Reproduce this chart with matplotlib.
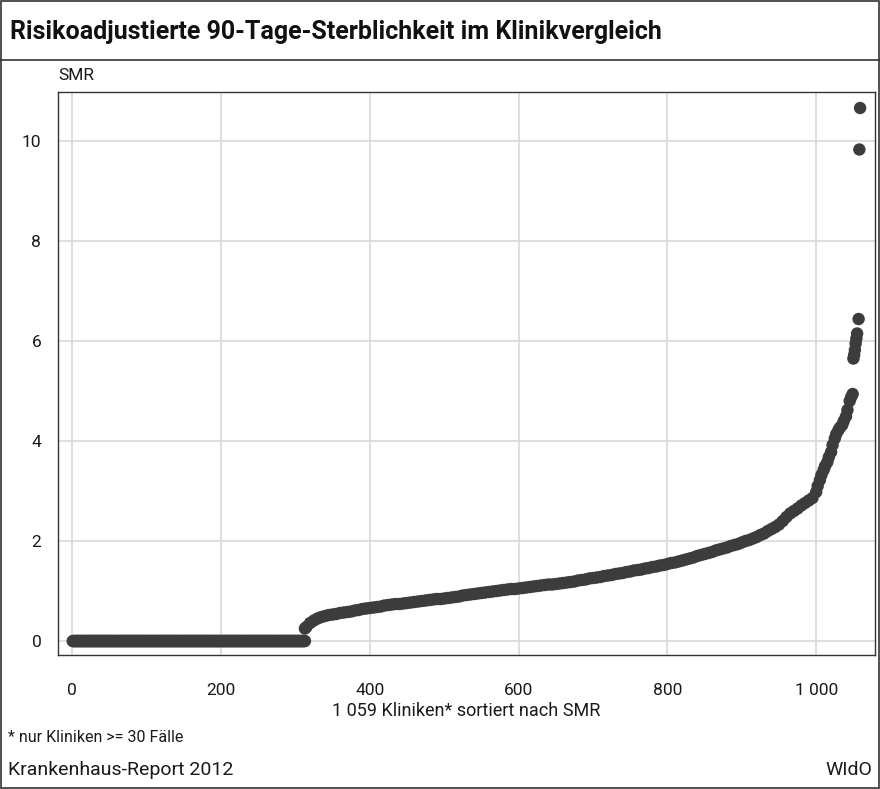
import numpy as np
import matplotlib
matplotlib.use("Agg")
import matplotlib.pyplot as plt
from matplotlib.ticker import FuncFormatter

# clinics with SMR 0 (ranks 1..313)
n_zero = 313

# SMR, every 5th rank from 315 to 1045
curve_rank = list(range(315, 1050, 5))
curve_smr = [
    0.28, 0.36, 0.41, 0.45, 0.48, 0.50, 0.52, 0.53, 0.54, 0.56,
    0.57, 0.58, 0.59, 0.61, 0.62, 0.64, 0.65, 0.66, 0.67, 0.68,
    0.69, 0.71, 0.72, 0.73, 0.74, 0.74, 0.75, 0.76, 0.77, 0.78,
    0.79, 0.80, 0.81, 0.82, 0.83, 0.84, 0.84, 0.85, 0.86, 0.87,
    0.88, 0.89, 0.91, 0.92, 0.93, 0.94, 0.95, 0.96, 0.97, 0.98,
    0.99, 1.00, 1.01, 1.02, 1.03, 1.04, 1.04, 1.05, 1.06, 1.07,
    1.08, 1.09, 1.10, 1.11, 1.12, 1.13, 1.13, 1.14, 1.15, 1.16,
    1.17, 1.18, 1.19, 1.21, 1.22, 1.23, 1.25, 1.26, 1.27, 1.28,
    1.30, 1.31, 1.32, 1.34, 1.35, 1.36, 1.38, 1.39, 1.41, 1.42,
    1.43, 1.45, 1.46, 1.48, 1.49, 1.51, 1.52, 1.54, 1.56, 1.57,
    1.59, 1.61, 1.63, 1.65, 1.67, 1.70, 1.72, 1.74, 1.76, 1.78,
    1.81, 1.83, 1.85, 1.87, 1.90, 1.92, 1.94, 1.97, 2.00, 2.02,
    2.05, 2.08, 2.12, 2.15, 2.20, 2.24, 2.28, 2.33, 2.40, 2.48,
    2.55, 2.60, 2.65, 2.71, 2.76, 2.81, 2.86, 2.98, 3.22, 3.42,
    3.58, 3.78, 4.05, 4.22, 4.32, 4.49, 4.80,
]

# extra points in the steep part and the top outliers
tail_rank = [313, 1002, 1007, 1012, 1017, 1022, 1027, 1032, 1037, 1042, 1047,
             1049, 1050, 1051, 1052, 1053, 1054, 1055, 1057, 1058, 1059]
tail_smr = [0.25, 3.10, 3.32, 3.50, 3.68, 3.92, 4.14, 4.27, 4.40, 4.62, 4.88,
            4.94, 5.65, 5.72, 5.82, 5.95, 6.05, 6.15, 6.44, 9.83, 10.66]

zero_rank = list(range(1, n_zero + 1))
zero_smr = [0.0] * n_zero

rank = np.array(zero_rank + curve_rank + tail_rank)
smr = np.array(zero_smr + curve_smr + tail_smr)

x_ticks = [0, 200, 400, 600, 800, 1000]
y_ticks = [0, 2, 4, 6, 8, 10]

plt.rcParams['font.family'] = ['Roboto', 'DejaVu Sans']

fig = plt.figure(figsize=(8.8, 7.89), dpi=100)

ax = fig.add_axes([0.0659, 0.1698, 0.9284, 0.7136])
ax.scatter(rank, smr, s=80, color='#3c3c3e', edgecolors='none', zorder=3)

ax.set_xlim(-18.8, 1079)
ax.set_ylim(-0.28, 10.98)
ax.set_xticks(x_ticks)
ax.set_yticks(y_ticks)
ax.xaxis.set_major_formatter(FuncFormatter(lambda v, p: f"{int(v):,}".replace(',', ' ')))
ax.grid(True, color='#d9d9d9', linewidth=1.2)
ax.set_axisbelow(True)
ax.tick_params(length=0, labelsize=12.5, colors='#1a1a1a')
ax.tick_params(axis='x', pad=20)
ax.tick_params(axis='y', pad=12)
for s in ax.spines.values():
    s.set_color('#333333')
    s.set_linewidth(1.0)

ax.set_xlabel("1 059 Kliniken* sortiert nach SMR", fontsize=13, color='#1a1a1a', labelpad=3)

# frame, title and header line
fig.patches.append(plt.Rectangle((0.001, 0.001), 0.998, 0.998, transform=fig.transFigure,
                                 fill=False, edgecolor='#333333', linewidth=1.2))
fig.add_artist(plt.Line2D([0, 1], [1 - 60 / 789, 1 - 60 / 789], transform=fig.transFigure,
                          color='#333333', linewidth=1.2))
fig.text(10 / 880, 1 - 32 / 789, "Risikoadjustierte 90-Tage-Sterblichkeit im Klinikvergleich",
         fontsize=18, fontweight='bold', va='center', ha='left', color='#111111')
fig.text(58 / 880, 1 - 75 / 789, "SMR", fontsize=12.5, va='center', ha='left', color='#1a1a1a')

fig.text(8 / 880, 1 - 737 / 789, "* nur Kliniken >= 30 Fälle", fontsize=11.5,
         va='center', ha='left', color='#1a1a1a')
fig.text(8 / 880, 1 - 770 / 789, "Krankenhaus-Report 2012", fontsize=14,
         va='center', ha='left', color='#1a1a1a')
fig.text(872 / 880, 1 - 770 / 789, "WIdO", fontsize=14,
         va='center', ha='right', color='#1a1a1a')

fig.savefig('out.png', dpi=100)
